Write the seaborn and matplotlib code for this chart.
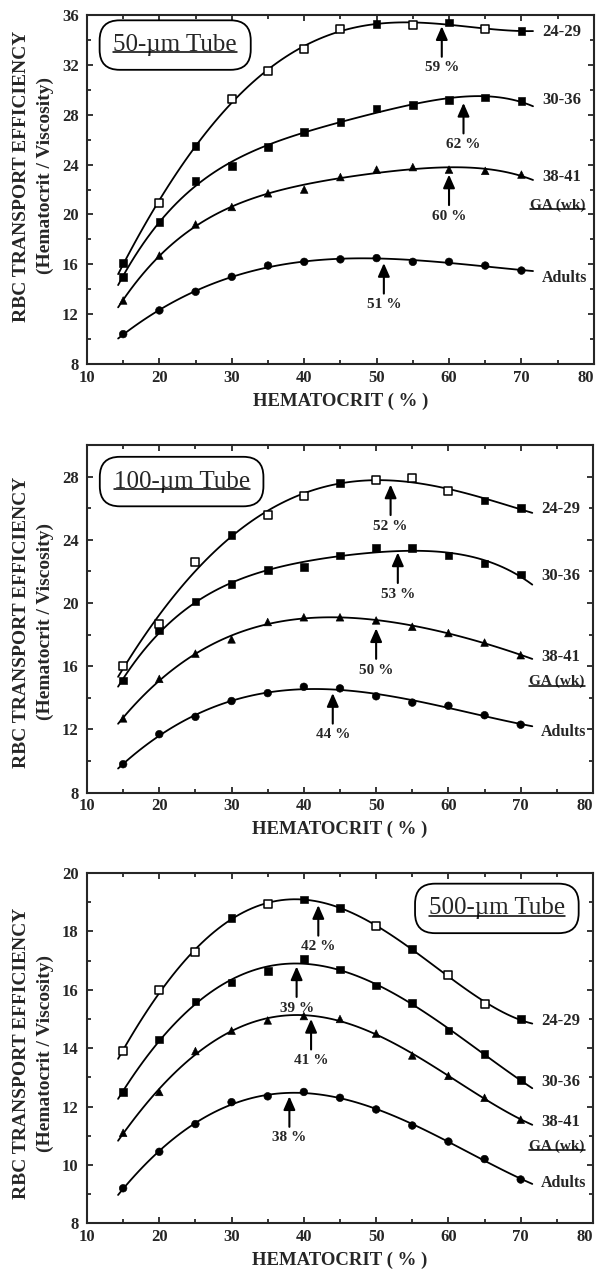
import numpy as np
import pandas as pd
import matplotlib
matplotlib.use('Agg')
import matplotlib.pyplot as plt
from matplotlib.lines import Line2D
from matplotlib.ticker import MultipleLocator
import seaborn as sns

# hematocrit levels (%) measured in every tube
hct = [15, 20, 25, 30, 35, 40, 45, 50, 55, 60, 65, 70]
groups = ['24-29', '30-36', '38-41', 'Adults']

# 50-um tube
t50_2429 = [16.1, 20.9, 25.5, 29.3, 31.5, 33.3, 34.9, 35.3, 35.2, 35.4, 34.9, 34.7]
t50_3036 = [15.0, 19.4, 22.7, 23.9, 25.4, 26.6, 27.4, 28.5, 28.8, 29.2, 29.4, 29.1]
t50_3841 = [13.1, 16.7, 19.2, 20.6, 21.7, 22.0, 23.0, 23.6, 23.8, 23.6, 23.5, 23.2]
t50_adult = [10.4, 12.3, 13.8, 15.0, 15.9, 16.2, 16.4, 16.5, 16.2, 16.2, 15.9, 15.5]
t50_open = [20, 30, 35, 40, 45, 55, 65]          # 24-29 points drawn hollow
t50_peak = [59, 62, 60, 51]                     # optimal hematocrit per group
t50_peak_val = [35.1, 28.95, 23.2, 16.1]

# 100-um tube
t100_2429 = [16.0, 18.7, 22.6, 24.3, 25.6, 26.8, 27.6, 27.8, 27.9, 27.1, 26.5, 26.0]
t100_3036 = [15.1, 18.3, 20.1, 21.2, 22.1, 22.3, 23.0, 23.5, 23.5, 23.0, 22.5, 21.8]
t100_3841 = [12.7, 15.2, 16.8, 17.7, 18.8, 19.1, 19.1, 18.9, 18.5, 18.1, 17.5, 16.7]
t100_adult = [9.8, 11.7, 12.8, 13.8, 14.3, 14.7, 14.6, 14.1, 13.7, 13.5, 12.9, 12.3]
t100_open = [15, 20, 25, 35, 40, 50, 55, 60]
t100_peak = [52, 53, 50, 44]
t100_peak_val = [27.5, 23.2, 18.4, 14.3]

# 500-um tube
t500_2429 = [13.9, 16.0, 17.3, 18.45, 18.95, 19.1, 18.8, 18.2, 17.4, 16.5, 15.5, 15.0]
t500_3036 = [12.5, 14.3, 15.6, 16.25, 16.65, 17.05, 16.7, 16.15, 15.55, 14.6, 13.8, 12.9]
t500_3841 = [11.1, 12.5, 13.9, 14.6, 14.95, 15.1, 15.0, 14.5, 13.75, 13.05, 12.3, 11.55]
t500_adult = [9.2, 10.45, 11.4, 12.15, 12.35, 12.5, 12.3, 11.9, 11.35, 10.8, 10.2, 9.5]
t500_open = [15, 20, 25, 35, 50, 60, 65]
t500_peak = [42, 39, 41, 38]
t500_peak_val = [18.9, 16.8, 15.0, 12.35]

sns.set_style('ticks', {'xtick.direction': 'in', 'ytick.direction': 'in'})
plt.rcParams['font.family'] = ['Liberation Serif', 'DejaVu Serif']
plt.rcParams['font.weight'] = 'bold'
plt.rcParams['axes.linewidth'] = 1.5

markers = {'24-29': 's', '30-36': 's', '38-41': '^', 'Adults': 'o'}


def draw_panel(ax, series, open_pts, peaks, peak_vals, ylim, ystep, title, title_xy, label_y):
    # long-form table for seaborn
    df = pd.DataFrame({
        'hct': hct * 4,
        'value': sum(series, []),
        'group': np.repeat(groups, len(hct)),
    })
    df['hollow'] = (df['group'] == '24-29') & df['hct'].isin(open_pts)

    # fitted curves, drawn a little past the first and last point
    ax.set_xlim(14.3, 71.6)
    for g in groups:
        sub = df[df['group'] == g]
        sns.regplot(data=sub, x='hct', y='value', order=4, ci=None, scatter=False,
                    truncate=False, color='black', line_kws={'lw': 1.3}, ax=ax)

    filled = df[~df['hollow']]
    sns.scatterplot(data=filled, x='hct', y='value', style='group', markers=markers,
                    color='black', edgecolor='black', s=30, legend=False, ax=ax, zorder=3)
    hollow = df[df['hollow']]
    sns.scatterplot(data=hollow, x='hct', y='value', marker='s', facecolor='white',
                    edgecolor='black', linewidth=1.1, s=26, legend=False, ax=ax, zorder=3)

    # arrows at the optimal hematocrit
    for pk, pv in zip(peaks, peak_vals):
        ax.annotate(f'{pk} %', xy=(pk, pv), xytext=(0, -30), textcoords='offset points',
                    ha='center', va='center', fontsize=11,
                    arrowprops=dict(arrowstyle='-|>,head_length=0.5,head_width=0.22',
                                    color='black', lw=1.5, mutation_scale=16,
                                    shrinkA=1, shrinkB=0))

    # group labels at the end of the curves
    for g, ly in zip(groups[:3], label_y[:3]):
        ax.text(72.9, ly, g, va='center', ha='left', fontsize=12)
    ga = ax.text(71.2, label_y[3], 'GA (wk)', va='center', ha='left', fontsize=11)
    ax.text(72.8, label_y[4], 'Adults', va='center', ha='left', fontsize=11.5)

    tt = ax.text(title_xy[0], title_xy[1], title, transform=ax.transAxes, ha='center',
                 va='center', fontsize=18, fontweight='normal',
                 bbox=dict(boxstyle='round,pad=0.55,rounding_size=0.8', fc='white',
                           ec='black', lw=1.3))

    ax.set_xlim(10, 80)
    ax.set_ylim(*ylim)
    ax.xaxis.set_major_locator(MultipleLocator(10))
    ax.xaxis.set_minor_locator(MultipleLocator(5))
    ax.yaxis.set_major_locator(MultipleLocator(ystep))
    ax.yaxis.set_minor_locator(MultipleLocator(ystep / 2))
    ax.tick_params(which='both', top=True, right=True, width=1.3)
    ax.tick_params(which='major', length=4)
    ax.tick_params(which='minor', length=3)
    ax.tick_params(axis='x', labelsize=12, pad=4)
    ax.tick_params(axis='y', labelsize=12, pad=6)
    ax.set_xlabel('HEMATOCRIT ( % )', fontsize=13.5, fontweight='bold', labelpad=5)
    ax.set_ylabel('')
    return [tt, ga]


fig = plt.figure(figsize=(5.97, 12.76), dpi=100)
ax1 = fig.add_axes([0.1457, 0.7147, 0.849, 0.2735])
ax2 = fig.add_axes([0.1457, 0.3788, 0.8476, 0.2724])
ax3 = fig.add_axes([0.1457, 0.0413, 0.8476, 0.2745])

under = []
under += draw_panel(ax1, [t50_2429, t50_3036, t50_3841, t50_adult], t50_open,
                    t50_peak, t50_peak_val, (8, 36), 4, '50-µm Tube', (0.174, 0.914),
                    [34.67, 29.2, 23.0, 20.76, 14.9])
under += draw_panel(ax2, [t100_2429, t100_3036, t100_3841, t100_adult], t100_open,
                    t100_peak, t100_peak_val, (8, 30), 4, '100-µm Tube', (0.187, 0.895),
                    [25.96, 21.7, 16.6, 15.03, 11.87])
under += draw_panel(ax3, [t500_2429, t500_3036, t500_3841, t500_adult], t500_open,
                    t500_peak, t500_peak_val, (8, 20), 2, '500-µm Tube', (0.81, 0.899),
                    [14.94, 12.85, 11.46, 10.65, 9.37])

# two-line y labels
for yc in [1 - 176 / 1276, 1 - 622 / 1276, 1 - 1053 / 1276]:
    fig.text(22 / 597, yc, 'RBC TRANSPORT EFFICIENCY', rotation=90, ha='center',
             va='center', fontsize=14, fontweight='bold')
    fig.text(45 / 597, yc, '(Hematocrit / Viscosity)', rotation=90, ha='center',
             va='center', fontsize=14, fontweight='bold')

fig.canvas.draw()

# keep the "80" tick label inside the figure
for ax in (ax1, ax2, ax3):
    for tick in ax.xaxis.get_major_ticks():
        if abs(tick.get_loc() - 80) < 1e-6:
            tick.label1.set_horizontalalignment('right')

# underline the tube titles and "GA (wk)"
inv = fig.transFigure.inverted()
for t in under:
    bb = t.get_window_extent()
    (x0, y0), (x1, y1) = inv.transform([(bb.x0, bb.y0), (bb.x1, bb.y1)])
    yl = y0 + 0.17 * (y1 - y0)
    fig.add_artist(Line2D([x0, x1], [yl, yl], transform=fig.transFigure,
                          color='black', lw=1.1))

fig.savefig('out.png', dpi=100)
